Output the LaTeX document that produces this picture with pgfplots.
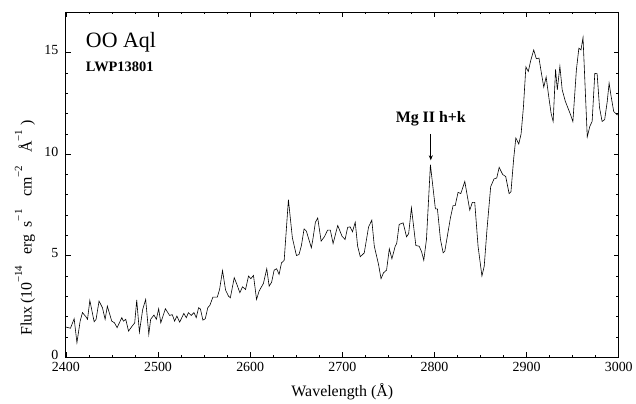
\documentclass[border=0pt]{standalone}
\usepackage{pgfplots}
\pgfplotsset{compat=1.18}
\usetikzlibrary{arrows.meta}
\usepackage{fontspec}
\setmainfont{Liberation Serif}

\newcommand{\upexp}[1]{\raisebox{0.6em}{\fontsize{11}{12}\selectfont #1}}

\pgfplotstableread{
lam flux
2400 1.49
2405 1.43
2409 1.90
2412 0.72
2415.5 1.78
2418 2.20
2421.7 2.00
2423.5 1.87
2426 2.80
2430.7 1.75
2432.8 1.87
2436 2.77
2439.7 2.44
2442.6 1.87
2445 2.52
2449.8 1.78
2452.7 1.70
2455.6 1.46
2460.7 1.95
2462.5 1.78
2465 1.87
2468 1.29
2472 1.54
2474.7 1.69
2476.9 2.82
2479.8 1.24
2483.4 2.36
2486.6 2.85
2490 1.13
2492 1.87
2495.6 2.08
2498.2 1.87
2500.7 2.39
2503 1.70
2508 2.39
2512.6 2.06
2515.5 2.10
2518 1.78
2520.5 2.03
2523.5 1.73
2528 2.16
2530.7 1.95
2533 2.20
2536 2.06
2539 2.20
2541.5 1.95
2544 2.44
2546 2.38
2548.7 1.83
2551.3 1.90
2554 2.44
2556.3 2.56
2559.5 2.96
2564.3 2.96
2566.8 3.34
2570 4.27
2573.3 3.31
2576.5 3.01
2578.5 2.93
2582.7 3.92
2585.5 3.60
2588.8 3.18
2591.7 3.47
2595 3.34
2598.2 4.00
2600.7 3.87
2603.6 4.03
2606.9 2.85
2609.7 3.26
2614.4 3.64
2618 4.36
2620.6 3.50
2623.3 3.70
2626 4.29
2628.7 4.36
2631.4 4.08
2634 4.65
2636.9 4.77
2641.5 7.76
2645.8 5.88
2650.2 5.01
2653 5.06
2655.6 5.50
2658.5 6.32
2661 6.21
2663.7 5.80
2666.4 5.39
2668 5.80
2670.8 6.65
2673.3 6.86
2677 5.72
2680.5 5.93
2684 6.26
2687 6.26
2690 5.60
2695 6.49
2699.7 5.96
2703 5.80
2705.8 6.40
2708.5 6.42
2711 6.18
2714 6.65
2716.6 5.47
2719.5 4.95
2723.8 5.14
2728.5 6.42
2732 6.75
2734.7 5.47
2739.3 4.57
2742 3.87
2744.7 4.16
2748 4.29
2751 5.34
2753.8 4.85
2757.4 5.47
2759 5.60
2761.7 6.54
2766 6.62
2769.7 5.93
2772 6.09
2775 7.36
2779.8 5.50
2783.4 5.47
2786 5.20
2788.4 4.78
2791.3 5.80
2795.6 9.48
2801 7.31
2803.2 7.31
2806.5 5.80
2809.4 5.14
2811.2 5.22
2817.3 6.86
2820.2 7.47
2822.5 7.47
2825.6 8.12
2828.6 8.06
2832.9 8.66
2838.3 7.24
2841.1 7.63
2843.7 7.63
2847.3 5.47
2851.5 4.00
2854 4.49
2857 6.30
2861 8.40
2864.6 8.78
2867.6 8.83
2870.2 9.35
2874 9.00
2877.3 8.90
2881 8.06
2883 8.15
2886 9.80
2888.3 10.80
2891.5 10.50
2894 11.00
2896.5 12.30
2899.2 14.30
2901.8 14.07
2904.4 14.60
2907.7 15.13
2910.5 14.70
2913.4 14.73
2916 14.00
2918.6 13.30
2921.2 13.80
2923.8 12.90
2926.6 12.00
2928.8 11.61
2931.4 14.17
2933.3 13.17
2936.1 14.33
2938.6 13.17
2942 12.60
2945.5 12.20
2948 11.90
2950.2 11.60
2954 14.15
2956.7 15.22
2959 15.13
2961.2 15.74
2965.8 10.85
2968.6 11.37
2971.1 11.61
2974 13.98
2976.5 13.96
2979.1 12.30
2981.9 11.61
2984.7 11.70
2987.5 12.60
2989.5 13.50
2991.5 12.90
2994.5 12.10
2998 11.94
3000 11.94
}\spectrum

\begin{document}
\begin{tikzpicture}
\begin{axis}[
    name=ax,
    scale only axis,
    width=554bp, height=346bp,
    xmin=2400, xmax=3000,
    ymin=0, ymax=17,
    xtick={2400,2500,...,3000},
    ytick={0,5,10,15},
    minor x tick num=3,
    minor y tick num=4,
    tick align=inside,
    major tick length=5bp,
    minor tick length=2.5bp,
    axis line style={line width=0.8pt},
    tick style={line width=0.6pt, black},
    /pgf/number format/assume math mode=true,
    /pgf/number format/1000 sep={},
    tick label style={font=\fontsize{14}{16}\selectfont},
    xticklabel style={yshift=-1bp},
    yticklabel style={xshift=-4bp, yshift=2.5bp},
    label style={font=\fontsize{16}{18}\selectfont},
    xlabel={Wavelength (Å)},
    ylabel={Flux\,(10\upexp{−14}\hspace{0.7em}erg\hspace{0.45em}s\upexp{−1}\hspace{0.8em}cm\upexp{−2}\hspace{0.8em}Å\upexp{−1}\hspace{0.3em})},
    xlabel style={at={(axis description cs:0.5,-0.1)}, anchor=center},
    ylabel style={at={(axis description cs:-0.074,0.375)}, anchor=center},
    clip=true,
]
\addplot[black, line width=0.6pt] table[x=lam, y=flux] {\spectrum};

\node[anchor=west, font=\fontsize{22}{24}\selectfont] at (axis cs:2418,15.5) {OO Aql};
\node[anchor=west, font=\bfseries\fontsize{14.5}{16}\selectfont] at (axis cs:2418,14.3) {LWP13801};
\node[font=\bfseries\fontsize{16}{18}\selectfont] at (axis cs:2796,11.75) {Mg II h+k};
\draw[-{Stealth[length=5bp,width=4bp]}, line width=0.6pt] (axis cs:2796,11.0) -- (axis cs:2796,9.7);
\end{axis}
\path ([shift={(-66bp,-42bp)}]ax.south west) rectangle ([shift={(16bp,12bp)}]ax.north east);
\end{tikzpicture}
\end{document}
